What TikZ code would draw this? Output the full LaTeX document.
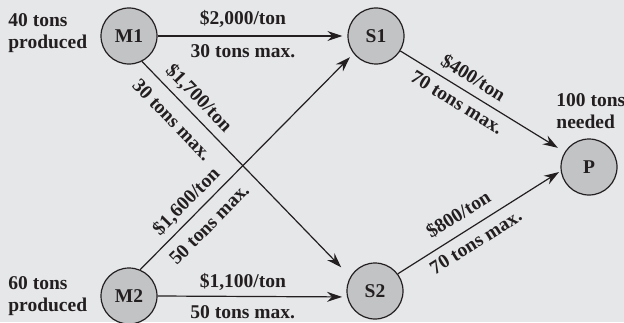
\documentclass[tikz,border=0pt]{standalone}
\usepackage{fontspec}
\setmainfont{Liberation Serif}
\usepackage{tikz}
\usetikzlibrary{arrows.meta}
\definecolor{bggray}{RGB}{230,231,233}
\definecolor{sitegray}{RGB}{194,195,197}
\definecolor{ink}{RGB}{35,31,32}

\begin{document}
\begin{tikzpicture}[x=0.5pt,y=0.5pt,>={Stealth[length=7.5pt,width=5pt,inset=2.5pt]}]
\tikzset{site/.style={circle,draw=ink,fill=sitegray,line width=0.6pt,minimum size=28pt,inner sep=0pt,text=ink,font=\fontsize{9.75}{11}\selectfont\bfseries},
note/.style={align=left,inner sep=0pt,text=ink,font=\fontsize{9.75}{11}\selectfont\bfseries},
cost/.style={sloped,inner sep=0pt,text=ink,font=\fontsize{9.75}{11}\selectfont\bfseries},
route/.style={->,draw=ink,line width=0.6pt,shorten >=2.5pt}}
\fill[bggray] (0,0) rectangle (624,322);
\useasboundingbox (0,0) rectangle (624,322);
\node[site] (M1) at (129,286) {M1};
\node[site] (S1) at (376,286) {S1};
\node[site] (P) at (589,155) {P};
\node[site] (M2) at (129,26) {M2};
\node[site] (S2) at (375,31) {S2};
\node[note,anchor=west] (M1note) at (8,288.5) {40 tons\\produced};
\node[note,anchor=west] (M2note) at (8,25.5) {60 tons\\produced};
\node[note,anchor=west] (Pnote) at (556,210.5) {100 tons\\needed};
\draw[route] (M1.east) -- node[cost,pos=0.45,above=3.75pt]{\$2,000/ton} node[cost,pos=0.45,below=4.15pt]{30 tons max.} (S1.west);
\draw[route,shorten >=6.5pt] (M1.-63) -- node[cost,pos=0.22,above=3pt]{\$1,700/ton} node[cost,pos=0.21,below=5.75pt]{30 tons max.} (S2.150);
\draw[route] (M2.67) -- node[cost,pos=0.267,above=2.85pt]{\$1,600/ton} node[cost,pos=0.266,below=5pt]{50 tons max.} (S1.218);
\draw[route] (M2.east) -- node[cost,pos=0.45,above=2.75pt]{\$1,100/ton} node[cost,pos=0.45,below=4.15pt]{50 tons max.} (S2.192);
\draw[route,shorten >=4pt] (S1) -- node[cost,pos=0.395,above=3.45pt]{\$400/ton} node[cost,pos=0.39,below=3.35pt]{70 tons max.} (P);
\draw[route,shorten >=1pt] (S2.37) -- node[cost,pos=0.43,above=4.75pt]{\$800/ton} node[cost,pos=0.43,below=3.65pt]{70 tons max.} (P.188);
\end{tikzpicture}
\end{document}
